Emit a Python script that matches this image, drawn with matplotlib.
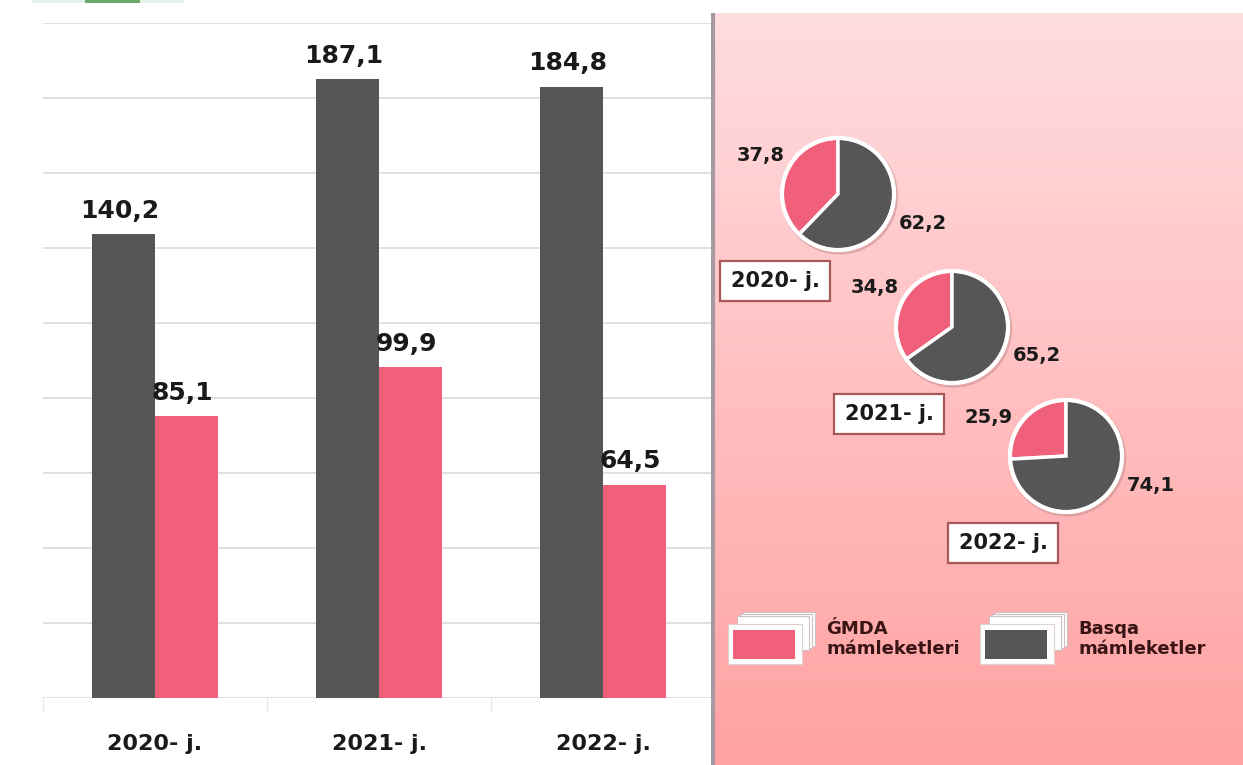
import numpy as np
import matplotlib
matplotlib.use('Agg')
import matplotlib.pyplot as plt
from matplotlib.patches import Rectangle, Circle
from matplotlib.colors import LinearSegmentedColormap

# Datos
years = ['2020- j.', '2021- j.', '2022- j.']
other_vals = [140.2, 187.1, 184.8]      # Basqa mámleketler
gmda_vals = [85.1, 99.9, 64.5]          # ǴMDA mámleketleri
gmda_share = [37.8, 34.8, 25.9]
other_share = [62.2, 65.2, 74.1]
legend_labels = ['ǴMDA\nmámleketleri', 'Basqa\nmámleketler']

dark = '#565656'
pink = '#f1607a'
W, H = 1243, 765

plt.rcParams['font.family'] = ['DejaVu Sans']

fig = plt.figure(figsize=(W / 100, H / 100), dpi=100)
fig.patch.set_facecolor('white')

# Grafico de barras
ax = fig.add_axes([43 / W, 67 / H, 672 / W, 675 / H])
x = np.arange(len(years))
bw = 0.28
b1 = ax.bar(x - bw / 2, other_vals, bw, color=dark, zorder=3)
b2 = ax.bar(x + bw / 2, gmda_vals, bw, color=pink, zorder=3)
ax.set_xlim(-0.5, 2.5)
ax.set_ylim(0, 204)
ax.set_yticks(np.linspace(0, 204, 10))
ax.yaxis.grid(True, color='#e0e0e0', lw=1.4, zorder=0)
ax.tick_params(axis='y', left=False, labelleft=False)
for s in ax.spines.values():
    s.set_visible(False)
ax.set_xticks(x)
ax.set_xticklabels(years, fontsize=16, fontweight='bold', color='#1a1a1a')
ax.tick_params(axis='x', length=0, pad=26)
ax.set_xticks([-0.5, 0.5, 1.5, 2.5], minor=True)
ax.tick_params(axis='x', which='minor', length=10, color='#e8e8e8', width=1)

for bars, vals in [(b1, other_vals), (b2, gmda_vals)]:
    for r, v in zip(bars, vals):
        ax.annotate(f'{v:.1f}'.replace('.', ','), (r.get_x() + r.get_width() / 2, v),
                    xytext=(-3, 8), textcoords='offset points', ha='center', va='bottom',
                    fontsize=18, fontweight='bold', color='#1a1a1a')

# Panel derecho con degradado
px0, ptop = 711, 13
axp = fig.add_axes([px0 / W, 0, (W - px0) / W, (H - ptop) / H])
grad = np.linspace(0, 1, 256).reshape(-1, 1)
cmap = LinearSegmentedColormap.from_list('g', ['#ffdde0', '#ffa2a2'])
axp.imshow(grad, cmap=cmap, aspect='auto', extent=[px0, W, 0, H - ptop], zorder=0)
axp.axvline(px0 + 1.5, color='#a898a2', lw=3, zorder=1)

pie_centers = [(838, 194), (952, 327), (1066, 456)]
R = 56
for i, (cx, cy) in enumerate(pie_centers):
    cu = H - cy
    axp.add_patch(Circle((cx + 1.5, cu - 2), R + 2, color='#c89090', alpha=0.45, zorder=2))
    axp.pie([gmda_share[i], other_share[i]], colors=[pink, dark], startangle=90,
            counterclock=True, center=(cx, cu), radius=R, frame=True,
            wedgeprops=dict(edgecolor='white', linewidth=2.5, zorder=3))
    axp.add_patch(Circle((cx, cu), R, fill=False, ec='white', lw=3, zorder=4))
    axp.text(cx - 77, cu + 39, f'{gmda_share[i]:.1f}'.replace('.', ','), ha='center',
             va='center', fontsize=14, fontweight='bold', color='#1a1a1a', zorder=5)
    axp.text(cx + 85, cu - 29, f'{other_share[i]:.1f}'.replace('.', ','), ha='center',
             va='center', fontsize=14, fontweight='bold', color='#1a1a1a', zorder=5)
    axp.text(cx - 63, cu - 87, years[i], ha='center', va='center', fontsize=15,
             fontweight='bold', color='#1a1a1a', zorder=5,
             bbox=dict(boxstyle='square,pad=0.5', fc='white', ec='#a85858', lw=1.6))

# Leyenda (cajas 3D)
for lx, col, lab in [(728, pink, legend_labels[0]), (980, dark, legend_labels[1])]:
    yb = H - 664
    for k in range(3, 0, -1):
        axp.add_patch(Rectangle((lx + 6 + 3 * k, yb + 12 + 2 * k), 72, 34, fc='white',
                                ec='#d0c0c0', lw=0.8, zorder=3))
    axp.add_patch(Rectangle((lx, yb), 74, 40, fc='white', ec='#e0d0d0', lw=0.8, zorder=4))
    axp.add_patch(Rectangle((lx + 5, yb + 5), 62, 29, fc=col, ec='none', zorder=5))
    axp.text(lx + 98, H - 639, lab, ha='left', va='center', fontsize=13,
             fontweight='bold', color='#3a1414', linespacing=1.15, zorder=5)

axp.set_xlim(px0, W)
axp.set_ylim(0, H - ptop)
axp.axis('off')

# Logo recortado arriba
fig.patches.append(Rectangle((32 / W, 1 - 3 / H), 152 / W, 3 / H, transform=fig.transFigure,
                             fc='#e8f2e8', ec='none'))
fig.patches.append(Rectangle((85 / W, 1 - 3 / H), 55 / W, 3 / H, transform=fig.transFigure,
                             fc='#6aaa6a', ec='none'))

fig.savefig('out.png', dpi=100)
